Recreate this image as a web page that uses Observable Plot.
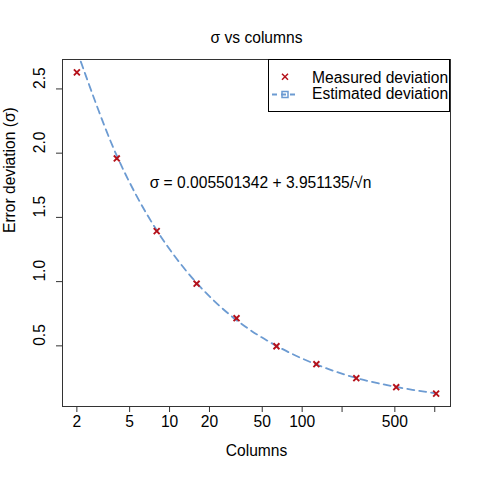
<!DOCTYPE html>
<html>
<head>
<meta charset="utf-8">
<script src="https://cdn.jsdelivr.net/npm/d3@7"></script>
<script src="https://cdn.jsdelivr.net/npm/@observablehq/plot@0.6"></script>
<style>
  html, body { margin: 0; padding: 0; background: #fff; }
  svg { display: block; font-family: "Liberation Sans", Arial, sans-serif; }
</style>
</head>
<body>
<div id="chart"></div>
<script>
const columns = [2, 4, 8, 16, 32, 64, 128, 256, 512, 1024];
const measured = [2.629, 1.959, 1.393, 0.984, 0.715, 0.497, 0.357, 0.248, 0.178, 0.128];
const estimated = [2.80, 1.98, 1.40, 0.99, 0.70, 0.50, 0.355, 0.25, 0.18, 0.13];
const xTicks = [2, 5, 10, 20, 50, 100, 200, 500, 1000];
const xTickLabels = ["2", "5", "10", "20", "50", "100", "", "500", ""];
const yTicks = [0.5, 1.0, 1.5, 2.0, 2.5];
const yTickLabels = ["0.5", "1.0", "1.5", "2.0", "2.5"];
const titleText = "σ vs columns";
const xLabel = "Columns";
const yLabel = "Error deviation (σ)";
const equationText = "σ = 0.005501342 + 3.951135/√n";
const equationAt = {x: 48.5, y: 1.771};
const legendLabels = ["Measured deviation", "Estimated deviation"];

const red = "#B5121B";
const blue = "#6C9BD2";
const fs = 15.6;

const rows = columns.map((c, i) => ({n: c, m: measured[i], e: estimated[i]}));
const xPad = Math.pow(10, 0.04 * (Math.log10(1024) - Math.log10(2)));
const yr = d3.extent(measured);
const yPad = 0.04 * (yr[1] - yr[0]);

const plot = Plot.plot({
  width: 480,
  height: 480,
  marginLeft: 62,
  marginRight: 30,
  marginTop: 59,
  marginBottom: 74,
  style: {fontFamily: "Liberation Sans, Arial, sans-serif", fontSize: fs + "px", background: "#fff"},
  x: {type: "log", domain: [2 / xPad, 1024 * xPad]},
  y: {domain: [yr[0] - yPad, yr[1] + yPad]},
  marks: [
    Plot.line(rows, {x: "n", y: "e", stroke: blue, strokeWidth: 1.8, strokeDasharray: "7,5", curve: "catmull-rom", clip: true}),
    Plot.dot(rows, {x: "n", y: "m", symbol: "times", r: 2.8, stroke: red, strokeWidth: 1.9}),
    Plot.frame({stroke: "#333", strokeWidth: 1}),
    Plot.axisX({ticks: xTicks, tickSize: 6, tickFormat: () => "", label: null, stroke: "#333"}),
    Plot.axisY({ticks: yTicks, tickSize: 6, tickFormat: () => "", label: null, stroke: "#333"}),
    Plot.text(xTicks, {x: d => d, text: (d, i) => xTickLabels[i], frameAnchor: "bottom", dy: 20, fontSize: fs, fill: "#000"}),
    Plot.text(yTicks, {y: d => d, text: (d, i) => yTickLabels[i], frameAnchor: "left", dx: -23, rotate: -90, fontSize: fs, fill: "#000"}),
    Plot.text([titleText], {frameAnchor: "top", dy: -28, fontSize: fs, fill: "#000"}),
    Plot.text([xLabel], {frameAnchor: "bottom", dy: 49, fontSize: fs, fill: "#000"}),
    Plot.text([yLabel], {frameAnchor: "left", dx: -53, rotate: -90, fontSize: fs, fill: "#000"}),
    Plot.text([equationText], {x: () => equationAt.x, y: () => equationAt.y, fontSize: fs, fill: "#000"})
  ]
});

document.getElementById("chart").appendChild(plot);

// Legend box (top-right, as in base R legend)
const svg = d3.select(plot);
const lg = svg.append("g").attr("text-anchor", "start");
lg.append("rect").attr("x", 268.5).attr("y", 59.5).attr("width", 181).attr("height", 52)
  .attr("fill", "#fff").attr("stroke", "#000").attr("stroke-width", 1);
// measured symbol
lg.append("path").attr("d", "M282,73.7L288,79.7M288,73.7L282,79.7").attr("stroke", red).attr("stroke-width", 1.5).attr("fill", "none");
// estimated line + square
lg.append("line").attr("x1", 272).attr("x2", 298).attr("y1", 94.5).attr("y2", 94.5)
  .attr("stroke", blue).attr("stroke-width", 1.8).attr("stroke-dasharray", "5,4");
lg.append("rect").attr("x", 282).attr("y", 91.5).attr("width", 6).attr("height", 6)
  .attr("fill", "none").attr("stroke", blue).attr("stroke-width", 1.5);
lg.append("text").attr("x", 312).attr("y", 82.7).attr("font-size", fs).attr("fill", "#000").attr("text-anchor", "start").text(legendLabels[0]);
lg.append("text").attr("x", 312).attr("y", 99.3).attr("font-size", fs).attr("fill", "#000").attr("text-anchor", "start").text(legendLabels[1]);
</script>
</body>
</html>
